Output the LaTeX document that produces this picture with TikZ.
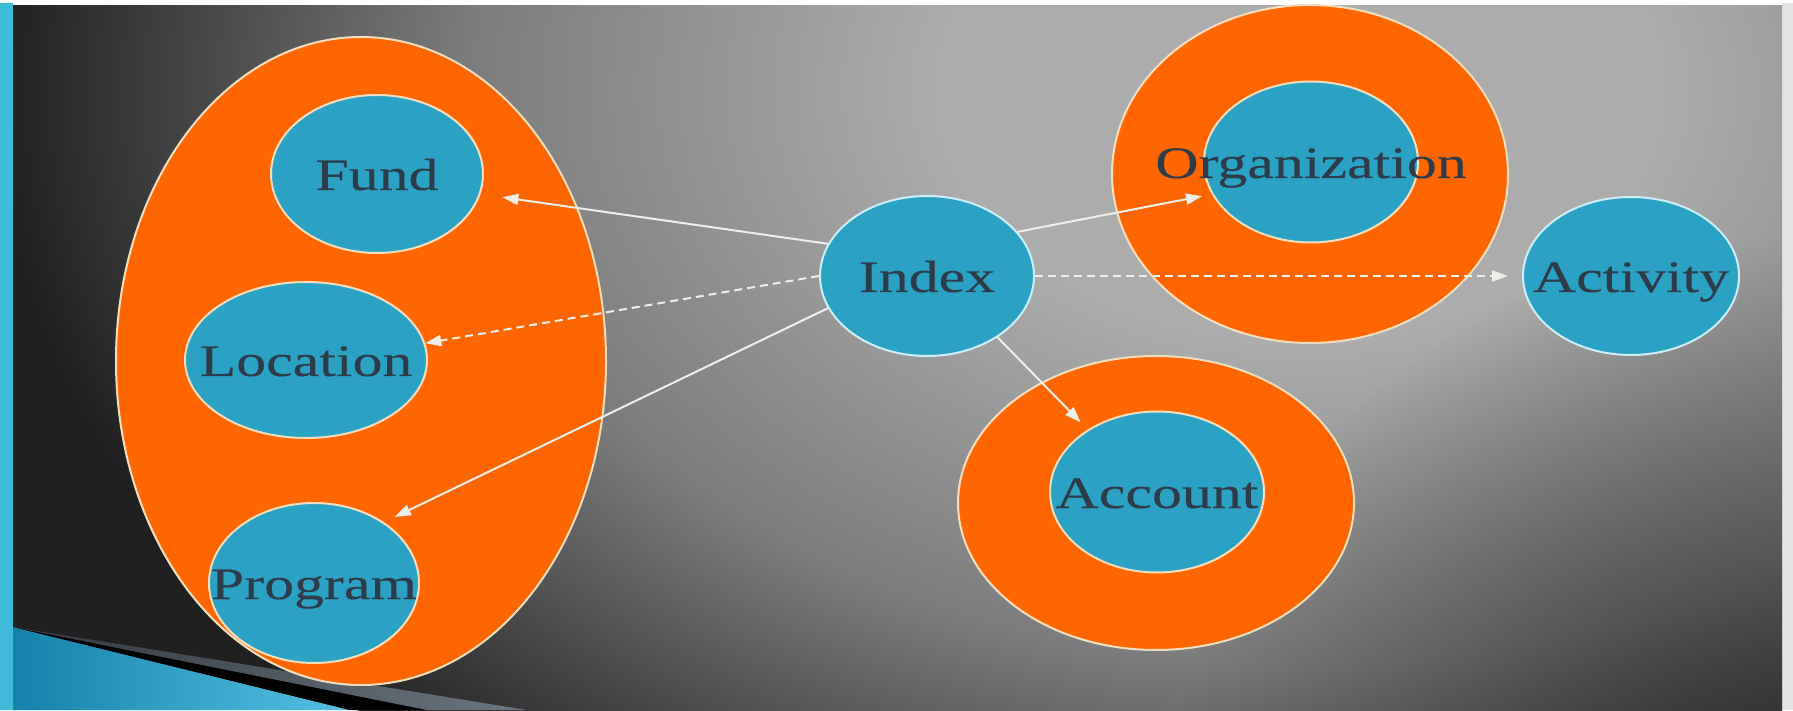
\documentclass[tikz,border=0pt]{standalone}
\usepackage{fontspec}
\usepackage{tikz}
\usetikzlibrary{arrows.meta, positioning, shapes.geometric, fadings}
\newfontfamily\labelfont[FakeStretch=1.33, FakeBold=0.3]{Liberation Serif}
\definecolor{slideorange}{RGB}{255, 102, 0}
\definecolor{slideblue}{RGB}{43, 162, 195}
\definecolor{slidecyan}{RGB}{62, 187, 214}
\definecolor{rimcream}{RGB}{245, 222, 190}
\definecolor{rimblue}{RGB}{205, 238, 248}
\definecolor{labelslate}{RGB}{46, 60, 74}
\definecolor{arrowwhite}{RGB}{238, 238, 234}
\definecolor{stripgray}{RGB}{228, 228, 228}
\definecolor{bgLight}{RGB}{172, 172, 172}
\definecolor{bgMid}{RGB}{124, 124, 124}
\definecolor{bgDark}{RGB}{32, 32, 32}
\definecolor{wedgeDeep}{RGB}{20, 130, 170}
\definecolor{wedgeLight}{RGB}{85, 192, 226}
\definecolor{bandDark}{RGB}{50, 56, 62}
\definecolor{bandLight}{RGB}{108, 118, 128}
\pgfdeclareradialshading{backdrop}{\pgfpoint{0bp}{0bp}}{color(0bp)=(bgLight); color(7bp)=(bgLight); color(16bp)=(bgMid); color(25bp)=(bgDark); color(50bp)=(bgDark)}
\tikzfading[name=cornerfade, inner color=transparent!0, outer color=transparent!100]

\tikzset{
  unit/.style={ellipse, draw=rimcream, fill=slideblue, line width=2pt, inner sep=0pt},
  holder/.style={unit, fill=slideorange},
  caption/.style={font=\labelfont\fontsize{45}{50}\selectfont, text=labelslate, inner sep=0pt, text height=32pt, text depth=0pt},
  flow/.style={arrowwhite, line width=2pt, -{Triangle[length=16pt, width=11pt]}},
  flowdashed/.style={flow, dash pattern=on 8pt off 5pt}
}

\begin{document}
\begin{tikzpicture}[x=1pt, y=1pt]
  \useasboundingbox (0,0) rectangle (1793,710);
  \fill[white] (0,0) rectangle (1793,710);
  \fill[slidecyan] (0,0) rectangle (13,707);
  \fill[stripgray] (1782,0) rectangle (1793,707);
  \begin{scope}
    \clip (13,0) rectangle (1782,704);
    \fill[bgDark] (13,0) rectangle (1782,704);
    \shade[shading=backdrop] (1300,620) ellipse (1300 and 900);
    \fill[bgDark, path fading=cornerfade, fill opacity=0.8] (1782,-150) circle (620);
  \end{scope}

  % corner wedges
  \coordinate (apex) at (13,83);
  \shade[left color=wedgeDeep, right color=wedgeLight] (apex) -- (350,0) -- (13,0) -- cycle;
  \fill[black] (apex) -- (427,0) -- (350,0) -- cycle;
  \shade[left color=bandDark, right color=bandLight] (apex) -- (527,0) -- (427,0) -- cycle;

  \node[holder, minimum width=490pt, minimum height=648pt] (segments) at (361,349) {};
  \node[unit, minimum width=212pt, minimum height=158pt, label={[caption]center:Fund}] (fund) at (377,536) {};
  \node[unit, minimum width=242pt, minimum height=156pt, label={[caption]center:Location}] (location) at (306,350) {};
  \node[unit, minimum width=210pt, minimum height=160pt, label={[caption]center:Program}] (program) at (314,127) {};

  \node[unit, draw=rimblue, minimum width=214pt, minimum height=160pt, label={[caption]center:Index}] (index) at (927,434) {};

  \node[holder, minimum width=396pt, minimum height=338pt] (orgring) at (1310,536) {};
  \node[unit, minimum width=214pt, minimum height=161pt, label={[caption]center:Organization}] (org) at (1311,548) {};

  \node[unit, draw=rimblue, minimum width=216pt, minimum height=158pt, label={[caption]center:Activity}] (activity) at (1631,434) {};

  \node[holder, minimum width=396pt, minimum height=294pt] (acctring) at (1156,207) {};
  \node[unit, minimum width=214pt, minimum height=161pt, label={[caption]center:Account}] (account) at (1157,218) {};

  \draw[flow, shorten >=22pt] (index.162) -- (fund.-11);
  \draw[flowdashed] (index.180) -- (location.8);
  \draw[flow, shorten >=12pt] (index.198) -- (program.41);
  \draw[flow, shorten >=10pt] (index.26) -- (org.198);
  \draw[flowdashed, shorten >=14pt] (index.0) -- (activity.180);
  \draw[flow, shorten >=10pt] (index.-41) -- (account.138);
\end{tikzpicture}
\end{document}
